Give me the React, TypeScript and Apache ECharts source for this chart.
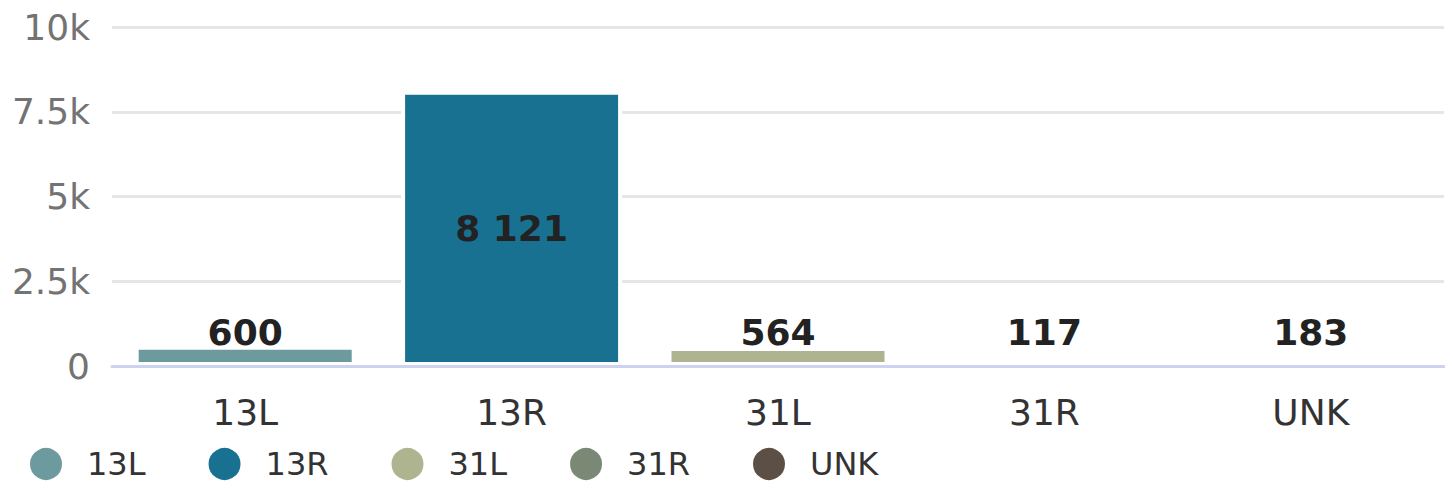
import React, { useEffect, useRef } from "react";
import * as echarts from "echarts";

const categories = ["13L", "13R", "31L", "31R", "UNK"];
const values = [600, 8121, 564, 117, 183];
const colors = ["#6d9a9e", "#187191", "#adb48f", "#7a8876", "#5c5046"];
const yTicks = [0, 2500, 5000, 7500, 10000];

const fmtK = (v: number) => (v === 0 ? "0" : `${v / 1000}k`);
const fmtNum = (v: number) => String(v).replace(/\B(?=(\d{3})+(?!\d))/g, " ");

export default function App() {
  const ref = useRef<HTMLDivElement>(null);
  useEffect(() => {
    if (!ref.current) return;
    const chart = echarts.init(ref.current, null, { renderer: "svg" });
    const font = "DejaVu Sans";
    const series = categories.map((name, i) => ({
      name,
      type: "bar",
      stack: "total",
      barWidth: 221,
      itemStyle: { color: colors[i], borderColor: "#ffffff", borderWidth: 4 },
      data: categories.map((_, j) => {
        if (j !== i) return null;
        const v = values[j];
        const big = v > 2000;
        return {
          value: v,
          label: big
            ? { position: "inside" }
            : { position: "insideBottom", distance: 16 },
        };
      }),
      label: {
        show: true,
        fontFamily: font,
        fontSize: 36,
        fontWeight: "bold",
        color: "#222222",
        formatter: (p: any) => fmtNum(p.value),
      },
    }));
    chart.setOption({
      animation: false,
      textStyle: { fontFamily: font },
      grid: { left: 112, right: 9, top: 27, bottom: 134, containLabel: false },
      legend: {
        left: 23,
        top: 441,
        icon: "circle",
        itemWidth: 34,
        itemHeight: 34,
        itemGap: 61,
        data: categories,
        textStyle: {
          fontFamily: font,
          fontSize: 32,
          color: "#333333",
          padding: [0, 0, 0, 19],
        },
      },
      xAxis: {
        type: "category",
        data: categories,
        z: 10,
        axisLine: { lineStyle: { color: "#cdd3ee", width: 3 } },
        axisTick: { show: false },
        axisLabel: {
          fontFamily: font,
          fontSize: 36,
          color: "#333333",
          margin: 28,
        },
      },
      yAxis: {
        type: "value",
        min: 0,
        max: 10000,
        interval: 2500,
        axisLine: { show: false },
        axisTick: { show: false },
        splitLine: { lineStyle: { color: "#e6e6e6", width: 3 } },
        axisLabel: {
          fontFamily: font,
          fontSize: 36,
          color: "#737373",
          margin: 22,
          formatter: (v: number) => (yTicks.includes(v) ? fmtK(v) : ""),
        },
      },
      series,
    });
    return () => chart.dispose();
  }, []);
  return <div ref={ref} style={{ width: 1453, height: 500, margin: -8 }} />;
}
